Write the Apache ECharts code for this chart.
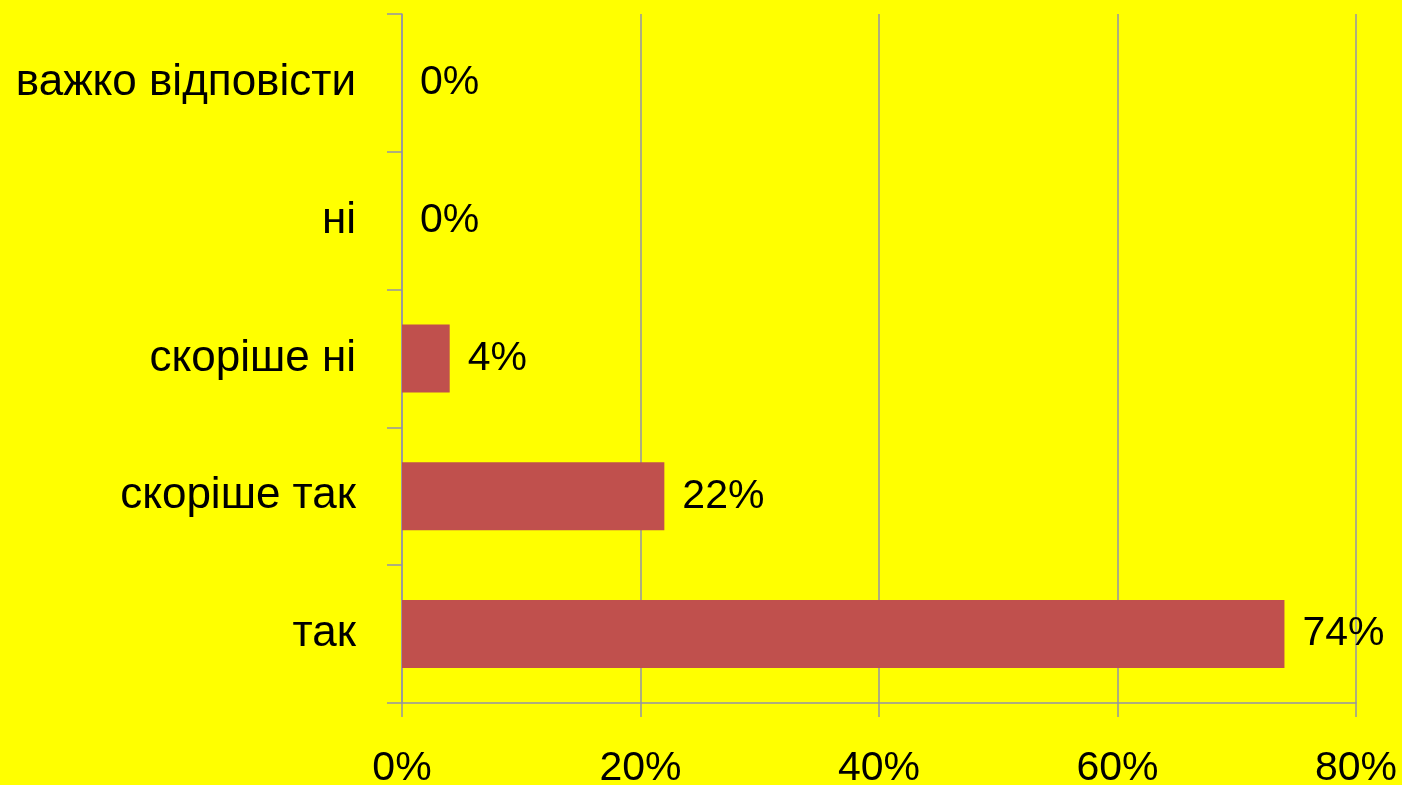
<!DOCTYPE html>
<html>
<head>
<meta charset="utf-8">
<script src="https://cdn.jsdelivr.net/npm/echarts@6/dist/echarts.min.js"></script>
<style>
  html, body { margin: 0; padding: 0; background: #ffff00; }
  #chart { width: 1402px; height: 785px; }
</style>
</head>
<body>
<div id="chart"></div>
<script>
// categories bottom to top
const categories = ['так', 'скоріше так', 'скоріше ні', 'ні', 'важко відповісти'];
const values = [74, 22, 4, 0, 0];
const xTicks = [0, 20, 40, 60, 80];

const chart = echarts.init(document.getElementById('chart'));

const axisColor = '#9494a4';
const font = '"Liberation Sans", Arial, sans-serif';

chart.setOption({
  backgroundColor: '#ffff00',
  animation: false,
  grid: { left: 402, right: 46, top: 14, bottom: 82, outerBoundsMode: 'none' },
  xAxis: {
    type: 'value',
    min: xTicks[0],
    max: xTicks[xTicks.length - 1],
    interval: 20,
    axisLine: { show: true, lineStyle: { color: axisColor, width: 1.5 } },
    axisTick: { show: true, length: 14, lineStyle: { color: axisColor, width: 1.5 } },
    splitLine: { show: true, lineStyle: { color: axisColor, width: 1.5 } },
    axisLabel: {
      color: '#000',
      fontFamily: font,
      fontSize: 41,
      margin: 45,
      formatter: v => v + '%'
    }
  },
  yAxis: {
    type: 'category',
    data: categories,
    axisLine: { show: true, lineStyle: { color: axisColor, width: 1.5 } },
    axisTick: { show: true, length: 15, lineStyle: { color: axisColor, width: 1.5 } },
    splitLine: { show: false },
    axisLabel: {
      color: '#000',
      fontFamily: font,
      fontSize: 44,
      margin: 46,
      padding: [4, 0, 0, 0]
    }
  },
  series: [{
    type: 'bar',
    data: values,
    barWidth: 68,
    itemStyle: { color: '#c0504d' },
    label: {
      show: true,
      position: 'right',
      distance: 18,
      color: '#000',
      fontFamily: font,
      fontSize: 41,
      formatter: p => p.value + '%'
    }
  }]
});
</script>
</body>
</html>
